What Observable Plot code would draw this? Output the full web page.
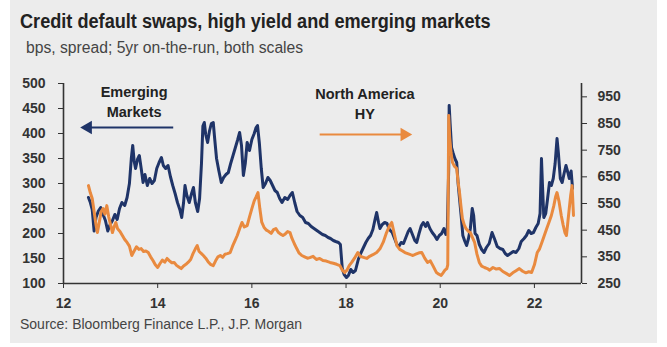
<!DOCTYPE html>
<html><head><meta charset="utf-8">
<script src="https://cdn.jsdelivr.net/npm/d3@7"></script>
<script src="https://cdn.jsdelivr.net/npm/@observablehq/plot@0.6"></script>
<style>
html,body{margin:0;padding:0;background:#fff;width:667px;height:347px;overflow:hidden;}
#panel{position:absolute;left:10px;top:0;width:647px;height:343px;background:#ececec;}
.t{position:absolute;white-space:nowrap;font-family:"Liberation Sans",Arial,sans-serif;transform-origin:0 50%;}
#title{left:20px;top:10px;font-size:19.5px;font-weight:bold;color:#222;transform:scaleX(0.93);}
#subtitle{left:26px;top:39px;font-size:16px;color:#444;transform:scaleX(0.98);}
#source{left:20px;top:316px;font-size:14px;color:#444;}
#chart{position:absolute;left:0;top:60px;}
</style></head><body>
<div id="panel"></div>
<div class="t" id="title">Credit default swaps, high yield and emerging markets</div>
<div class="t" id="subtitle">bps, spread; 5yr on-the-run, both scales</div>
<div id="chart"></div>
<div class="t" id="source">Source: Bloomberg Finance L.P., J.P. Morgan</div>
<script>
// Emerging markets CDS (left axis)
const emYears = [2012.53,2012.57,2012.61,2012.65,2012.69,2012.74,2012.79,2012.84,2012.89,2012.94,2012.99,2013.04,2013.09,2013.14,2013.19,2013.24,2013.30,2013.35,2013.40,2013.44,2013.47,2013.50,2013.53,2013.57,2013.61,2013.65,2013.69,2013.73,2013.78,2013.83,2013.88,2013.93,2013.98,2014.03,2014.08,2014.12,2014.17,2014.22,2014.27,2014.32,2014.37,2014.42,2014.47,2014.51,2014.55,2014.58,2014.62,2014.67,2014.72,2014.76,2014.80,2014.85,2014.89,2014.93,2014.96,2014.99,2015.02,2015.06,2015.10,2015.14,2015.18,2015.21,2015.25,2015.30,2015.35,2015.40,2015.45,2015.50,2015.55,2015.60,2015.65,2015.70,2015.74,2015.78,2015.82,2015.86,2015.90,2015.95,2016.00,2016.05,2016.09,2016.12,2016.16,2016.20,2016.24,2016.29,2016.34,2016.39,2016.44,2016.49,2016.54,2016.59,2016.64,2016.70,2016.76,2016.81,2016.86,2016.91,2016.96,2017.02,2017.08,2017.14,2017.20,2017.26,2017.32,2017.38,2017.44,2017.50,2017.56,2017.62,2017.67,2017.73,2017.78,2017.84,2017.88,2017.92,2017.96,2018.01,2018.05,2018.10,2018.15,2018.20,2018.26,2018.31,2018.36,2018.42,2018.47,2018.52,2018.57,2018.62,2018.65,2018.69,2018.72,2018.77,2018.82,2018.87,2018.92,2018.98,2019.03,2019.08,2019.12,2019.17,2019.22,2019.27,2019.32,2019.36,2019.41,2019.46,2019.50,2019.55,2019.60,2019.64,2019.69,2019.73,2019.78,2019.83,2019.88,2019.93,2019.98,2020.03,2020.08,2020.12,2020.15,2020.18,2020.19,2020.21,2020.24,2020.27,2020.31,2020.35,2020.38,2020.41,2020.45,2020.48,2020.52,2020.56,2020.60,2020.64,2020.68,2020.71,2020.74,2020.78,2020.83,2020.88,2020.93,2020.98,2021.04,2021.10,2021.15,2021.21,2021.27,2021.33,2021.38,2021.43,2021.49,2021.55,2021.61,2021.67,2021.72,2021.78,2021.83,2021.88,2021.93,2021.98,2022.03,2022.08,2022.12,2022.15,2022.17,2022.20,2022.24,2022.28,2022.32,2022.36,2022.40,2022.44,2022.48,2022.51,2022.55,2022.59,2022.63,2022.67,2022.71,2022.74,2022.78,2022.81];
const emValues = [272,262,248,205,232,245,252,238,226,205,218,226,238,228,250,262,256,272,300,350,376,345,330,348,356,330,302,318,296,310,300,306,330,342,352,336,330,336,314,296,280,262,248,232,262,296,276,262,280,292,262,244,270,340,415,422,398,382,405,420,422,390,350,325,302,312,318,322,340,356,372,388,402,376,316,340,382,366,388,400,412,416,380,330,292,300,312,306,296,286,282,270,262,272,268,276,282,262,244,236,232,222,220,214,210,206,202,198,196,192,190,186,184,182,178,130,118,112,116,128,122,126,148,160,170,182,190,196,208,230,242,222,210,218,222,220,208,202,190,178,174,182,180,192,204,210,198,186,182,200,216,222,214,222,210,202,196,188,196,200,210,198,206,330,456,420,372,362,350,342,300,270,230,196,185,176,190,210,250,236,200,196,178,168,162,172,180,202,190,174,170,168,160,156,160,164,162,170,184,190,196,206,200,202,212,220,240,350,300,232,240,270,302,296,310,340,390,360,310,302,320,336,322,310,325,290];

// North America HY CDS (right axis)
const hyYears = [2012.53,2012.57,2012.61,2012.65,2012.69,2012.72,2012.76,2012.80,2012.84,2012.88,2012.92,2012.96,2013.00,2013.04,2013.08,2013.11,2013.15,2013.20,2013.25,2013.30,2013.35,2013.40,2013.45,2013.50,2013.55,2013.60,2013.65,2013.70,2013.75,2013.80,2013.85,2013.90,2013.95,2014.00,2014.05,2014.10,2014.15,2014.20,2014.25,2014.30,2014.35,2014.40,2014.45,2014.50,2014.55,2014.60,2014.65,2014.70,2014.75,2014.80,2014.84,2014.88,2014.93,2014.97,2015.02,2015.07,2015.12,2015.18,2015.23,2015.28,2015.33,2015.38,2015.43,2015.48,2015.54,2015.59,2015.64,2015.69,2015.74,2015.79,2015.84,2015.90,2015.95,2016.00,2016.05,2016.09,2016.13,2016.17,2016.21,2016.26,2016.31,2016.36,2016.41,2016.46,2016.51,2016.56,2016.61,2016.66,2016.71,2016.76,2016.81,2016.85,2016.90,2016.95,2017.00,2017.06,2017.12,2017.18,2017.23,2017.30,2017.37,2017.44,2017.51,2017.58,2017.66,2017.73,2017.80,2017.87,2017.92,2017.97,2018.02,2018.07,2018.12,2018.18,2018.25,2018.30,2018.37,2018.44,2018.50,2018.57,2018.65,2018.72,2018.79,2018.86,2018.92,2018.97,2019.02,2019.08,2019.14,2019.20,2019.25,2019.31,2019.37,2019.42,2019.48,2019.55,2019.61,2019.67,2019.73,2019.79,2019.85,2019.92,2019.97,2020.02,2020.06,2020.10,2020.14,2020.16,2020.18,2020.20,2020.23,2020.26,2020.30,2020.35,2020.38,2020.41,2020.44,2020.47,2020.51,2020.55,2020.60,2020.64,2020.69,2020.73,2020.78,2020.83,2020.88,2020.94,2021.00,2021.05,2021.12,2021.19,2021.26,2021.33,2021.40,2021.47,2021.54,2021.61,2021.68,2021.75,2021.82,2021.88,2021.94,2022.00,2022.06,2022.11,2022.16,2022.21,2022.26,2022.31,2022.36,2022.41,2022.45,2022.48,2022.52,2022.57,2022.61,2022.65,2022.68,2022.71,2022.74,2022.77,2022.80,2022.83];
const hyValues = [617,590,569,520,470,441,480,520,531,510,542,500,470,441,465,479,455,445,430,415,404,390,355,372,388,378,381,370,372,366,350,336,320,310,325,338,330,344,335,328,329,318,312,306,316,322,330,340,362,380,392,370,362,355,345,332,322,317,335,350,355,348,360,362,366,390,410,430,455,479,462,467,500,531,560,575,591,530,480,460,450,445,438,452,456,442,435,430,436,445,441,420,400,382,365,355,350,345,347,352,340,344,336,334,329,326,322,317,300,291,300,318,329,345,366,352,348,344,352,358,366,380,405,441,465,479,440,392,378,372,366,362,358,355,360,365,366,345,329,335,315,291,285,280,290,300,306,320,880,800,740,704,690,681,630,591,540,494,470,455,445,441,420,404,360,329,315,310,306,300,310,304,306,295,288,280,290,298,306,296,290,294,291,320,366,380,405,430,455,480,505,540,575,591,560,505,470,440,430,480,531,580,617,505];

const xTicks = [2012, 2014, 2016, 2018, 2020, 2022];
const leftTicks = [100, 150, 200, 250, 300, 350, 400, 450, 500];
const rightTicks = [250, 350, 450, 550, 650, 750, 850, 950];

// right scale [250,1000] mapped onto left scale [100,500]
const toLeft = v => 100 + (v - 250) * 400 / 750;
const fromLeft = d => 250 + (d - 100) * 750 / 400;

const blue = "#1f3468";
const orange = "#e98a3f";
const axisColor = "#333";
const font = "'Liberation Sans', Arial, sans-serif";

const chart = Plot.plot({
  width: 667,
  height: 262,
  marginTop: 23,
  marginBottom: 39,
  marginLeft: 63,
  marginRight: 86,
  x: {domain: [2012, 2023]},
  y: {domain: [100, 500]},
  style: {background: "transparent", fontFamily: font, fontSize: "14px", fontWeight: "bold", color: axisColor},
  marks: [
    Plot.axisX(xTicks, {tickSize: 5, tickPadding: 10, tickFormat: d => String(d % 100), fontSize: 14, fontWeight: "bold", color: axisColor, label: null}),
    Plot.axisY(leftTicks, {anchor: "left", tickSize: 5, tickPadding: 13, fontSize: 14, fontWeight: "bold", color: axisColor, label: null}),
    Plot.axisY(rightTicks.map(toLeft), {anchor: "right", tickSize: 5, tickPadding: 11, tickFormat: d => String(Math.round(fromLeft(d))), fontSize: 14, fontWeight: "bold", color: axisColor, label: null}),
    Plot.line(emValues, {x: emYears, y: emValues, stroke: blue, strokeWidth: 3, strokeLinejoin: "round"}),
    Plot.line(hyValues, {x: hyYears, y: hyValues.map(toLeft), stroke: orange, strokeWidth: 3, strokeLinejoin: "round"}),
    Plot.ruleX([2012, 2023], {stroke: axisColor, strokeWidth: 1.6}),
    Plot.ruleY([100], {stroke: axisColor, strokeWidth: 1.6}),
    // annotations
    Plot.text(["Emerging\nMarkets"], {x: 2013.5, y: 466, text: d => d, fontSize: 14.5, fontWeight: "bold", fill: "#222", lineHeight: 1.4}),
    Plot.link([0], {x1: 2014.33, x2: 2012.55, y1: 412, y2: 412, stroke: blue, strokeWidth: 2.2}),
    Plot.dot([0], {x: 2012.52, y: 412, symbol: "triangle", r: 5, rotate: -90, fill: blue, stroke: null}),
    Plot.text(["North America\nHY"], {x: 2018.4, y: 462, text: d => d, fontSize: 14.5, fontWeight: "bold", fill: "#222", lineHeight: 1.4}),
    Plot.link([0], {x1: 2017.44, x2: 2019.2, y1: 398, y2: 398, stroke: orange, strokeWidth: 2.2}),
    Plot.dot([0], {x: 2019.24, y: 398, symbol: "triangle", r: 5, rotate: 90, fill: orange, stroke: null})
  ]
});
document.getElementById("chart").appendChild(chart);
</script>
</body></html>
